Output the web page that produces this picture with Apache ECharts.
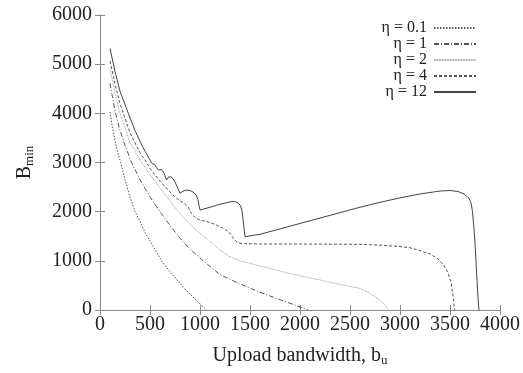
<!DOCTYPE html>
<html>
<head>
<meta charset="utf-8">
<title>Bmin</title>
<script src="https://cdn.jsdelivr.net/npm/echarts@6/dist/echarts.min.js"></script>
<style>
  html, body { margin: 0; padding: 0; background: #fff; }
  .echarts_1 { width: 523px; height: 373px; }
</style>
</head>
<body>
<div class="echarts_1"></div>
<script>
// 图例名称
var names = ['η = 0.1', 'η = 1', 'η = 2', 'η = 4', 'η = 12'];
// x轴 / y轴刻度 [min, max, interval]
var xTicks = [0, 4000, 500];
var yTicks = [0, 6000, 1000];

// 各曲线数据 [上传带宽, Bmin]
var eta01 = [[100,4030],[125,3700],[150,3450],[175,3220],[207,3000],[250,2650],[300,2300],[350,2000],
    [400,1800],[450,1580],[500,1400],[550,1230],[616,1000],[700,780],[800,540],[900,320],[1000,130],[1065,0]];
var eta1 = [[100,4610],[150,4050],[200,3650],[250,3350],[316,3000],[400,2650],[500,2300],[600,2000],
    [700,1720],[800,1460],[900,1240],[1033,1000],[1200,720],[1400,530],[1600,360],[1800,210],[1950,100],[2080,0]];
var eta2 = [[100,4910],[150,4400],[200,4000],[300,3400],[416,3000],[500,2750],[600,2480],[700,2220],
    [783,2000],[900,1740],[1000,1560],[1100,1400],[1200,1220],[1300,1080],[1400,1000],[1500,950],[1600,893],
    [1700,847],[1900,740],[2200,610],[2400,520],[2600,440],[2700,340],[2800,200],[2850,100],[2880,0]];
var eta4 = [[100,5060],[150,4600],[200,4200],[300,3600],[400,3200],[466,3000],[500,2880],[600,2620],
    [700,2400],[750,2300],[800,2220],[850,2160],[880,2100],[910,1980],[950,1880],[1000,1830],[1100,1780],
    [1166,1728],[1250,1640],[1300,1560],[1340,1440],[1370,1380],[1420,1350],[1600,1342],[2000,1342],
    [2400,1338],[2600,1335],[2800,1320],[3000,1290],[3100,1265],[3200,1210],[3300,1140],[3380,1040],
    [3440,900],[3480,760],[3510,560],[3530,300],[3545,0]];
var eta12 = [[100,5320],[150,4850],[200,4450],[283,4000],[350,3650],[400,3430],[450,3230],[500,3050],
    [520,2980],[530,3000],[545,2960],[565,2900],[583,2846],[595,2880],[615,2860],[640,2780],[666,2643],
    [680,2700],[710,2710],[740,2640],[770,2520],[800,2372],[830,2420],[870,2440],[900,2430],[930,2400],
    [960,2340],[980,2250],[990,2130],[1000,2033],[1100,2090],[1200,2150],[1300,2200],[1340,2210],
    [1380,2180],[1405,2120],[1420,2020],[1435,1750],[1450,1491],[1600,1540],[1800,1650],[2000,1760],
    [2200,1870],[2400,1980],[2600,2090],[2800,2190],[3000,2280],[3200,2360],[3400,2420],[3500,2430],
    [3580,2410],[3640,2360],[3690,2270],[3710,2180],[3725,2000],[3740,1650],[3755,1200],[3770,600],
    [3785,100],[3790,0]];

var serif = 'Liberation Serif';
var axisColor = '#888';

function plain(v) { return String(v); }

function mkLine(name, data, color, type) {
    return {
        name: name,
        type: 'line',
        data: data,
        symbol: 'none',
        lineStyle: { color: color, width: 1, type: type },
        itemStyle: { color: color },
        silent: true
    };
}

var echarts_1 = echarts.init(document.querySelector('.echarts_1'));

var option1 = {
    animation: false,
    grid: { left: 100, right: 22, top: 15, bottom: 63 },
    legend: {
        data: names,
        orient: 'vertical',
        right: 41,
        top: 15,
        align: 'right',
        itemWidth: 42,
        itemHeight: 10,
        itemGap: 0,
        itemStyle: { opacity: 0 },
        textStyle: { fontFamily: serif, fontSize: 16, color: '#222', padding: [0, 2, 0, 0] }
    },
    xAxis: [{
        type: 'value',
        min: xTicks[0], max: xTicks[1], interval: xTicks[2],
        name: 'Upload bandwidth, {s|b}{u|u}',
        nameLocation: 'middle',
        nameGap: 34,
        nameTextStyle: {
            fontFamily: serif, fontSize: 20, color: '#222',
            rich: {
                s: { fontFamily: serif, fontSize: 20, color: '#222' },
                u: { fontFamily: serif, fontSize: 13, color: '#222', padding: [10, 0, 0, 0] }
            }
        },
        axisLine: { lineStyle: { color: axisColor } },
        axisTick: { inside: true, length: 5, lineStyle: { color: axisColor } },
        axisLabel: { fontFamily: serif, fontSize: 20, color: '#222', margin: 5, formatter: plain },
        splitLine: { show: false }
    }, {
        type: 'value', position: 'top',
        min: xTicks[0], max: xTicks[1], interval: xTicks[2],
        axisLine: { show: true, lineStyle: { color: axisColor } },
        axisTick: { inside: true, length: 5, lineStyle: { color: axisColor } },
        axisLabel: { show: false },
        splitLine: { show: false }
    }],
    yAxis: [{
        type: 'value',
        min: yTicks[0], max: yTicks[1], interval: yTicks[2],
        name: '{b|B}{m|min}',
        nameLocation: 'middle',
        nameGap: 64,
        nameRotate: 90,
        nameTextStyle: {
            rich: {
                b: { fontFamily: serif, fontSize: 20, color: '#222' },
                m: { fontFamily: serif, fontSize: 13, color: '#222', padding: [10, 0, 0, 0] }
            }
        },
        axisLine: { show: true, lineStyle: { color: axisColor } },
        axisTick: { inside: true, length: 5, lineStyle: { color: axisColor } },
        axisLabel: { fontFamily: serif, fontSize: 20, color: '#222', margin: 8, formatter: plain },
        splitLine: { show: false }
    }, {
        type: 'value', position: 'right',
        min: yTicks[0], max: yTicks[1], interval: yTicks[2],
        axisLine: { show: true, lineStyle: { color: axisColor } },
        axisTick: { inside: true, length: 5, lineStyle: { color: axisColor } },
        axisLabel: { show: false },
        splitLine: { show: false }
    }],
    series: [
        mkLine(names[0], eta01, '#555', [1.5, 1.5]),
        mkLine(names[1], eta1, '#555', [5, 2, 1, 2]),
        mkLine(names[2], eta2, '#aaa', [1, 0.6]),
        mkLine(names[3], eta4, '#555', [3, 2]),
        mkLine(names[4], eta12, '#444', 'solid')
    ]
};

echarts_1.setOption(option1);
</script>
</body>
</html>
